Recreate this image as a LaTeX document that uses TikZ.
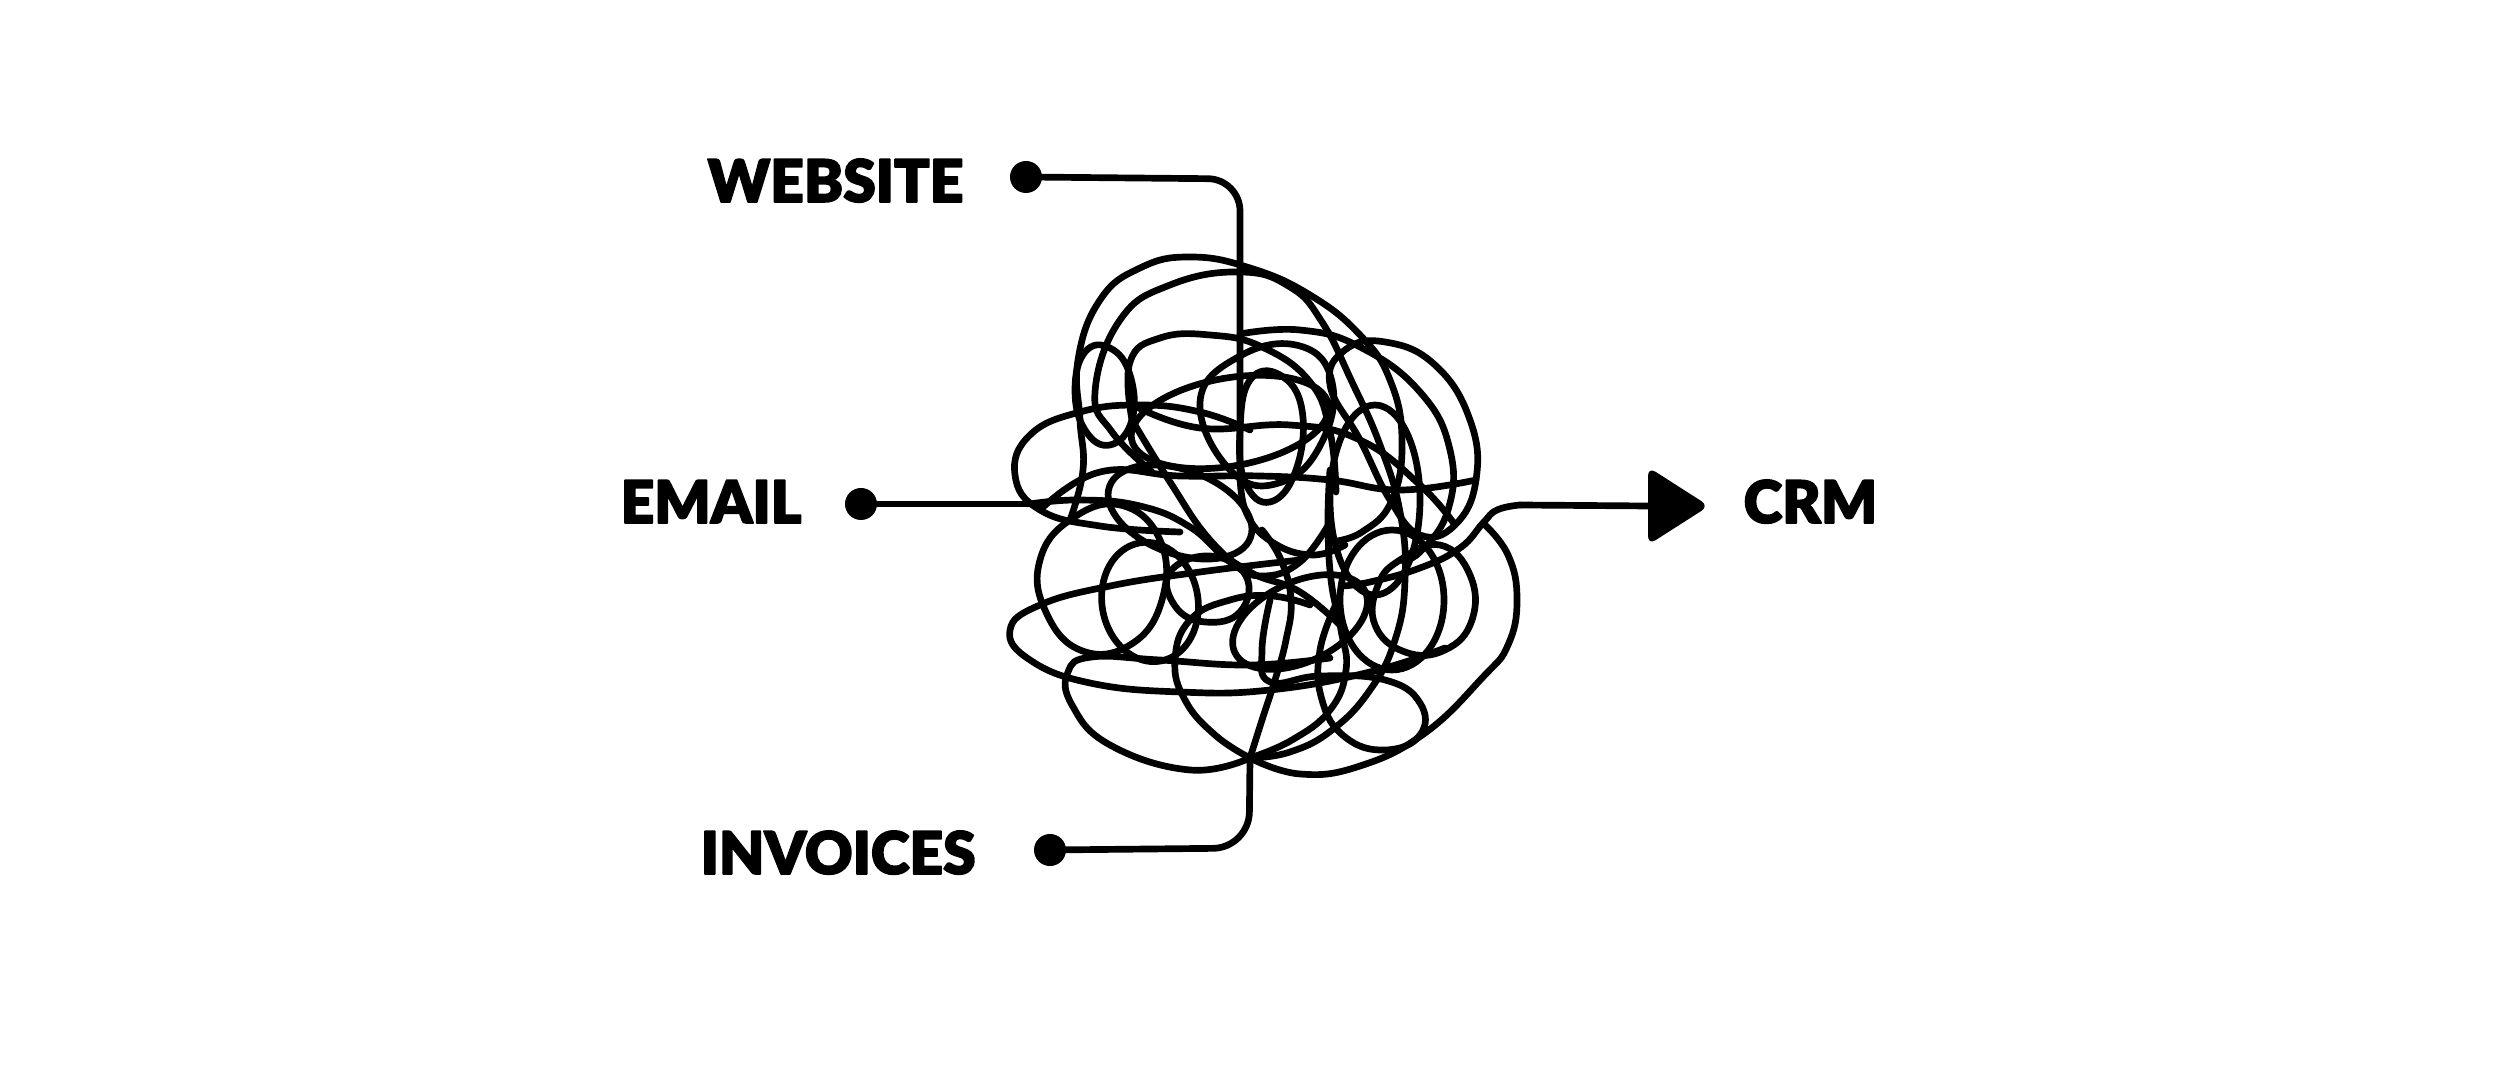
\documentclass[tikz,border=0pt]{standalone}
\usepackage{fontspec}
\newfontfamily\lblfont{Lato Black}[BoldFont={Lato Black},BoldFeatures={FakeBold=2.6}]
\begin{document}
\begin{tikzpicture}[x=0.01cm,y=-0.01cm,line cap=round,line join=round,
  wire/.style={draw=black,line width=1.9pt},
  tangle/.style={draw=black,line width=1.9pt,smooth,tension=0.75},
  dotnode/.style={circle,fill=black,inner sep=0pt,minimum size=0.32cm},
  lbl/.style={inner sep=0pt,font=\lblfont\bfseries\fontsize{16.7}{20}\selectfont}]
\useasboundingbox (0,0) rectangle (2500,1071);
% labels
\node[lbl,anchor=base west] (web) at (707,202) {WEBSITE};
\node[lbl,anchor=base west] (mail) at (620,523) {EMAIL};
\node[lbl,anchor=base west] (inv) at (700,874) {INVOICES};
\node[lbl,anchor=base west] (crm) at (1743,523) {CRM};
% dots
\node[dotnode] (dweb) at (1026,177) {};
\node[dotnode] (dmail) at (861,504) {};
\node[dotnode] (dinv) at (1050,850) {};
% entry coordinates
\coordinate (webin) at (1240,470);
\coordinate (mailin) at (1030,504);
\coordinate (invin) at (1250,758);
\coordinate (crmin) at (1520,505);
% arrow head
\node[inner sep=0pt,minimum size=0pt] (arr) at (1648,506) {};
\fill[rounded corners=2.5pt] (1648,467) -- (1709,506) -- (1648,545) -- cycle;
% connectors
\draw[wire,rounded corners=0.32cm] (dweb.center) -- (1240,179) -- (webin);
\draw[wire] (dmail.center) -- (mailin);
\draw[wire,rounded corners=0.36cm] (dinv.center) -- (1249,848) -- (invin);
\draw[wire] (arr.center) -- (crmin);
% tangle
\draw[tangle] plot coordinates {(1240,470)(1246,512)(1272,542)(1312,555)(1345,545)};
\draw[tangle] plot coordinates {(1520,505)(1497,510)(1483,523)(1460,548)(1420,568)(1370,582)(1342,586)};
\draw[tangle] plot coordinates {(1483,523)(1508,555)(1517,600)(1508,645)(1483,677)(1425,733)(1360,766)(1300,774)(1250,758)};
\draw[tangle] plot coordinates {(1030,504)(1080,500)(1140,506)(1190,527)(1230,562)(1262,576)(1300,562)(1330,522)};
\draw[tangle] plot coordinates {(1070,520)(1083,470)(1080,420)(1078,360)(1100,300)(1140,268)(1190,257)(1250,268)(1310,295)(1360,335)(1390,380)(1402,440)(1392,500)(1362,532)(1330,542)};
\draw[tangle] plot coordinates {(1152,472)(1112,432)(1095,392)(1120,320)(1170,285)(1240,272)(1290,287)(1322,322)(1352,382)(1380,445)(1400,512)(1405,580)(1395,640)(1370,690)(1332,730)(1290,752)(1250,758)};
\draw[tangle] plot[smooth cycle] coordinates {(1330,385)(1345,350)(1385,342)(1435,365)(1470,420)(1476,480)(1455,525)(1420,535)(1390,500)(1360,440)};
\draw[tangle] plot coordinates {(1240,334)(1300,330)(1360,347)(1420,392)(1450,450)(1448,510)(1420,552)(1400,560)};
\draw[tangle] plot[smooth cycle] coordinates {(1400,560)(1440,545)(1470,575)(1472,620)(1445,650)(1405,652)(1375,625)(1378,585)};
\draw[tangle] plot coordinates {(1270,600)(1262,650)(1270,682)(1320,676)(1385,680)(1420,703)(1420,735)(1385,750)(1345,737)(1322,700)(1320,650)(1338,600)};
\draw[tangle] plot coordinates {(1250,758)(1190,770)(1110,745)(1072,705)(1068,672)(1092,657)(1160,660)(1250,665)(1330,658)};
\draw[tangle] plot coordinates {(1300,560)(1200,572)(1110,586)(1040,605)(1010,630)(1030,660)(1090,683)(1180,692)(1270,690)(1370,672)(1445,648)};
\draw[tangle] plot coordinates {(1180,532)(1100,526)(1040,510)(1015,475)(1030,435)(1080,412)(1140,405)(1200,412)(1250,430)};
\draw[tangle] plot[smooth cycle] coordinates {(1070,520)(1120,505)(1160,540)(1162,600)(1130,645)(1080,650)(1045,610)(1040,560)};
\draw[tangle] plot[smooth cycle] coordinates {(1075,390)(1085,352)(1110,348)(1130,375)(1132,420)(1110,445)(1085,430)};
\draw[tangle] plot coordinates {(1132,420)(1130,362)(1160,338)(1210,335)(1262,347)(1310,382)(1330,432)(1336,492)};
\draw[tangle] plot[smooth cycle] coordinates {(1250,380)(1280,375)(1302,410)(1296,470)(1270,502)(1245,482)(1240,430)};
\draw[tangle] plot coordinates {(1040,510)(1100,472)(1180,476)(1260,476)(1330,480)(1400,490)(1476,480)};
\draw[tangle] plot coordinates {(1133,405)(1200,428)(1290,425)(1360,440)(1420,485)(1455,525)};
\draw[wire] (1180,512) ellipse[x radius=75,y radius=42,rotate=-20];
\draw[wire] (1300,622) ellipse[x radius=72,y radius=40,rotate=25];
\draw[tangle] plot coordinates {(1132,420)(1170,482)(1210,540)(1250,572)(1300,592)(1345,630)};
\draw[tangle] plot coordinates {(1250,758)(1262,720)(1275,680)(1286,640)(1291,600)(1281,560)(1262,530)};
\draw[tangle] plot coordinates {(1250,758)(1215,735)(1185,700)(1175,660)(1190,620)(1230,600)(1272,596)(1310,605)};
\draw[tangle] plot coordinates {(1250,758)(1292,740)(1330,710)(1346,670)(1341,630)(1331,580)(1328,520)(1330,470)};
\draw[wire] (1392,600) ellipse[x radius=52,y radius=70];
\draw[wire] (1150,602) ellipse[x radius=48,y radius=60,rotate=10];
\draw[tangle] plot[smooth cycle] coordinates {(1170,572)(1210,556)(1246,576)(1240,612)(1205,622)(1175,606)};
\draw[wire] (1375,500) ellipse[x radius=45,y radius=95];
\draw[wire] (1230,422) ellipse[x radius=100,y radius=44,rotate=10];
\draw[tangle] plot[smooth cycle] coordinates {(1200,402)(1240,356)(1300,346)(1332,382)(1322,442)(1282,482)(1232,472)};
\end{tikzpicture}
\end{document}
